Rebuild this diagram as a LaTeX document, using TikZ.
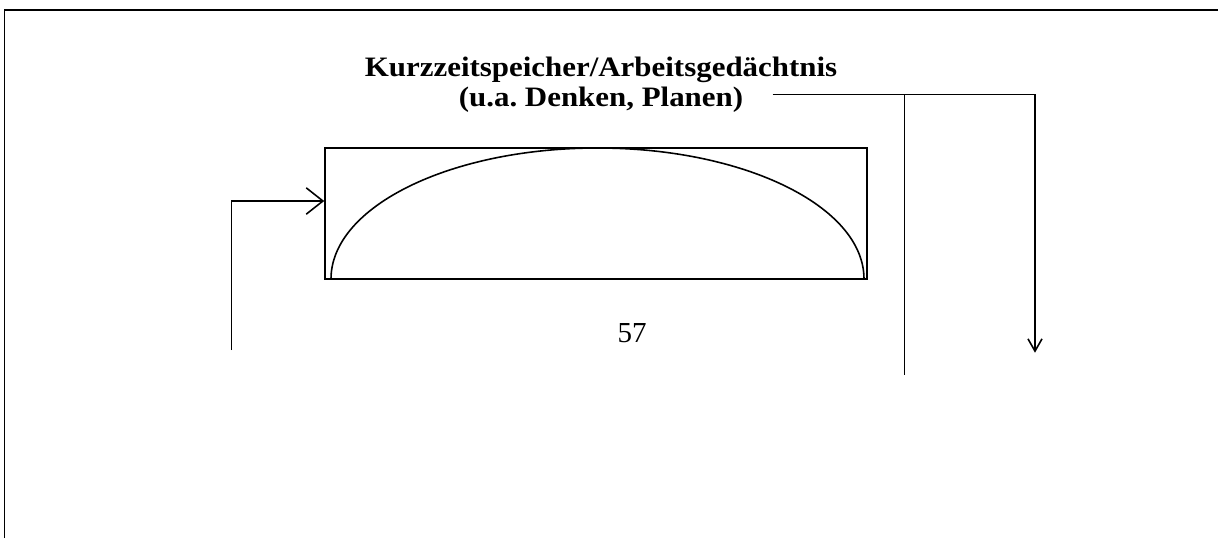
\documentclass[tikz,border=0pt]{standalone}
\usepackage{fontspec}
\setmainfont{Liberation Serif}
\newfontfamily\titlefont[FakeStretch=1.1]{Liberation Serif}
\frenchspacing
\usetikzlibrary{positioning,arrows.meta}

\begin{document}
\begin{tikzpicture}[x=0.02cm, y=-0.02cm, line width=0.9pt, every node/.style={inner sep=0pt}, memorybox/.style={draw, minimum width=542*0.02cm, minimum height=131*0.02cm}, arrbig/.style={-{Straight Barb[length=9.5pt, width=15pt]}}, arrsmall/.style={-{Straight Barb[length=7pt, width=8pt]}}]
    \useasboundingbox (0,0) rectangle (1218,538);
    \draw (4.5,538) -- (4.5,10) -- (1218,10);
    \node[font=\titlefont\bfseries\fontsize{16}{17}\selectfont, align=center] (title) at (601,85) {Kurzzeitspeicher/Arbeitsgedächtnis\\(u.a. Denken, Planen)};
    \node[memorybox] (wm) at (596,213.5) {};
    \draw (331,279) arc[start angle=180, end angle=360, x radius=266.5, y radius=131];
    \node[font=\fontsize{16.5}{19}\selectfont] (page) at (632,333) {57};
    \coordinate (inStart) at (231.7,350);
    \coordinate (inEnd) at (wm.west |- 0,201);
    \draw[arrbig] (inStart) |- (inEnd);
    \coordinate (outA) at (772.7,94.3);
    \coordinate (tee) at (904.3,94.3);
    \coordinate (teeEnd) at (904.3,375);
    \coordinate (outB) at (1035,94.3);
    \coordinate (outEnd) at (1035,352.7);
    \draw (outA) -- (outB);
    \draw (tee) -- (teeEnd);
    \draw[arrsmall] (outB) -- (outEnd);
  \end{tikzpicture}
\end{document}
